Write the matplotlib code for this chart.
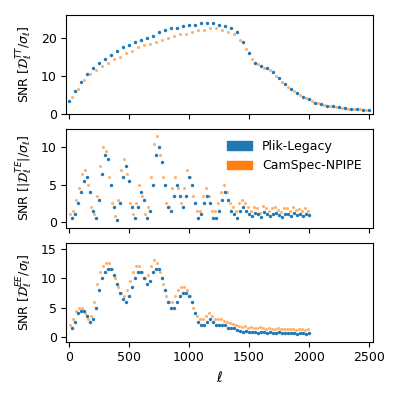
import matplotlib
matplotlib.use("Agg")
import matplotlib.pyplot as plt
from matplotlib.patches import Patch
import numpy as np

tt_ell_p = list(range(0, 2501, 50))
tt_plik = [3.5,6,8.5,10.5,12,13.5,14.5,15.5,16.5,17.5,18,19,19.5,20,20.5,21.5,22,22.5,22.5,23,23.5,23.5,24,24,24,23.5,23,22.5,21.5,19,16,13.5,12.5,12,11,9.5,8,6.5,5.5,4.5,3.8,3,2.6,2.2,2,1.7,1.5,1.3,1.2,1.1,1]
tt_ell_c = list(range(25, 2500, 50))
tt_cam = [4.5,6.5,9,10.5,11.5,12.5,13.5,14.5,15,16,16.5,17.5,18,18.5,19,19.5,20,20.5,21,21,21.5,22,22,22.5,22.5,22,21.5,21,19.5,17,14.5,13,12,11.5,10,8.5,7,6,5,4.2,3.5,2.8,2.4,2.1,1.8,1.6,1.4,1.3,1.2,1.1]

pe_ell = list(range(25, 2001, 25))
te_plik = [0.5,1,2.5,4,5.5,6,4,1.5,0.5,3,6.5,9,8.5,5,2,0.3,2.5,6,7.5,5.5,2,0.5,2,4,3,0.5,1.5,5,9,10,8,5,2,1.5,3.5,5,3.5,2,3.5,6,5,2.5,0.5,1,2.5,3.5,2.5,0.5,0.5,1.5,3,4,3,1.5,1,0.5,1.5,2,1.5,1,
           0.8,1.2,1,0.7,1.3,1.1,0.8,1,1.2,0.9,0.7,1,1.1,0.8,1.2,0.9,1,0.8,1,0.9]
te_cam = [1,1.5,3,4.5,6.5,7,5,2,1,3.5,7.5,10,9.5,6,2.5,0.8,3,7,8.5,6.5,2.5,1,2.5,5,3.5,1,2,6,10.5,11.5,9,6,2.5,2,4.5,6,4.5,2.5,4.5,7,6,3.5,1.5,1.5,3.5,4.5,3.5,1.5,1.5,2.5,4,5,4,2.5,2,1.5,2.5,3,2.5,2,
          1.5,2,1.8,1.2,2.2,1.9,1.5,1.8,2,1.6,1.3,1.8,1.9,1.5,2,1.6,1.7,1.4,1.8,1.5]
ee_plik = [1.5,2.5,4,4.5,4.5,3.5,2.5,3,5,8,10,11,11.5,11.5,10.5,9,7.5,6.5,6,7,8.5,10,11,11,10,9,9.5,11,11.5,11.5,10,8,6,5,5,6,7,7.5,7.5,7,6,4,2.5,2,2,2.5,3,2.5,2,2,2,2,1.5,1.5,1.5,1.2,
           1,0.9,1,0.8,0.9,0.8,0.7,0.9,0.8,0.7,0.8,0.6,0.7,0.8,0.6,0.7,0.6,0.7,0.6,0.5,0.6,0.7,0.5,0.6]
ee_cam = [2,3,4.5,5,5,4,3,3.5,6,9,11,12,12.5,12.5,11.5,10,8.5,7.5,7,8,9.5,11,12,12,11,10,10.5,12,13,12.5,11,9,7,6,6,7,8,8.5,8.5,8,7,5,3.5,3,3,3.5,4,3.5,3,3,3,2.8,2.5,2.3,2.2,2,
          1.8,1.7,1.8,1.6,1.7,1.6,1.5,1.7,1.5,1.4,1.6,1.3,1.4,1.5,1.3,1.4,1.3,1.4,1.3,1.2,1.3,1.4,1.2,1.3]

blue, orange = '#1f77b4', '#ff7f0e'
fig, axes = plt.subplots(3, 1, figsize=(4, 4), dpi=100, sharex=True)
panels = [
    (axes[0], tt_ell_p, tt_plik, tt_ell_c, tt_cam, r'SNR [$\mathcal{D}_\ell^{TT}/\sigma_\ell$]', [0, 10, 20], (0, 26)),
    (axes[1], pe_ell, te_plik, [e - 12 for e in pe_ell], te_cam, r'SNR [$|\mathcal{D}_\ell^{TE}|/\sigma_\ell$]', [0, 5, 10], (-0.8, 12.5)),
    (axes[2], pe_ell, ee_plik, [e - 12 for e in pe_ell], ee_cam, r'SNR [$\mathcal{D}_\ell^{EE}/\sigma_\ell$]', [0, 5, 10, 15], (-0.8, 16)),
]
for ax, xp, yp, xc, yc, lab, ticks, yl in panels:
    ax.scatter(xp, yp, s=6, color=blue, linewidths=0, zorder=3)
    ax.scatter(xc, yc, s=5, color=orange, alpha=0.6, linewidths=0, zorder=2)
    ax.set_ylabel(lab, fontsize=9)
    ax.set_yticks(ticks)
    ax.set_ylim(*yl)
    ax.tick_params(labelsize=9)
axes[2].set_xlim(-20, 2530)
axes[2].set_xticks([0, 500, 1000, 1500, 2000, 2500])
axes[2].set_xlabel(r'$\ell$', fontsize=10)
axes[1].legend(handles=[Patch(color=blue, label='Plik-Legacy'), Patch(color=orange, label='CamSpec-NPIPE')],
               loc='upper right', fontsize=9, frameon=False)
fig.tight_layout(h_pad=0.5)
fig.savefig('out.png')
